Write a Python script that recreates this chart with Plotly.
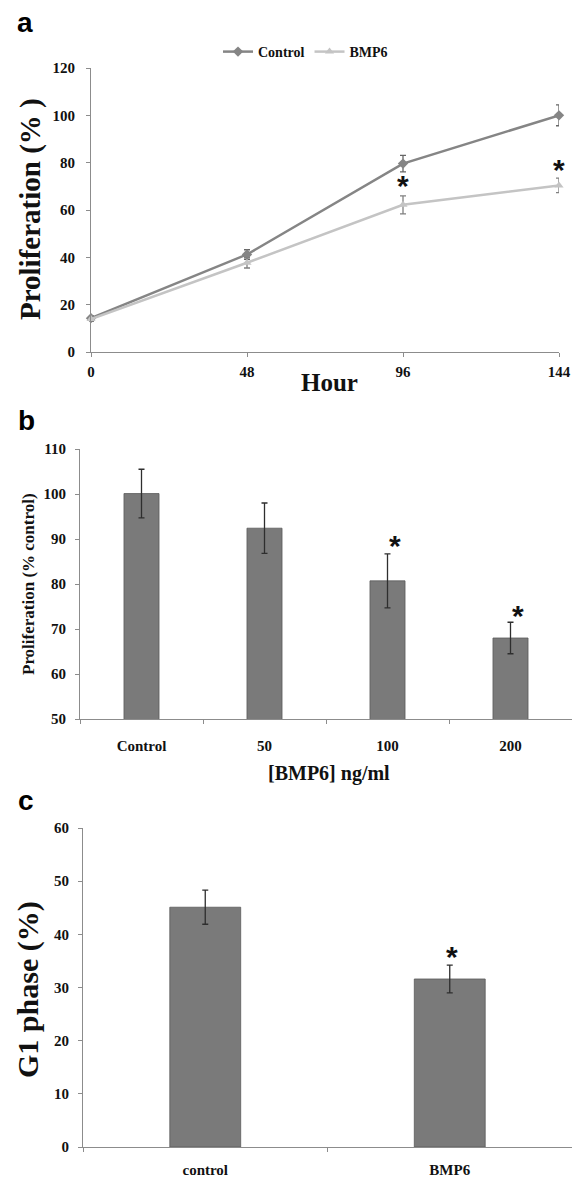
import plotly.graph_objects as go

W, H = 572, 1181

# ---------- Data ----------
# Panel a
hours = [0, 48, 96, 144]
control_a = [14.3, 41.2, 79.6, 100.0]
control_a_err = [1.0, 2.0, 3.5, 4.4]
bmp6_a = [13.9, 37.7, 62.2, 70.4]
bmp6_a_err = [1.0, 2.2, 3.8, 3.1]
sig_a_x = [96, 144]
sig_a_y = [70.5, 77.0]

# Panel b
dose_labels = ["Control", "50", "100", "200"]
prolif_b = [100.1, 92.4, 80.7, 68.0]
prolif_b_err = [5.4, 5.6, 6.0, 3.5]
sig_b_x = ["100", "200"]
sig_b_y = [88.5, 73.0]

# Panel c
groups_c = ["control", "BMP6"]
g1_c = [45.1, 31.6]
g1_c_err = [3.2, 2.6]
sig_c_x = ["BMP6"]
sig_c_y = [35.8]

# ---------- Style ----------
SERIF = "Liberation Serif, Times New Roman, serif"
SANS = "Liberation Sans, Arial, sans-serif"
AXC = "#8c8c8c"
C_CTRL = "#858585"
C_BMP = "#c4c4c4"
C_BAR = "#7a7a7a"
C_ERR = "#2e2e2e"


def px_x(p):
    return p / W


def px_y(p):
    return 1 - p / H


fig = go.Figure()

# Panel a lines
fig.add_trace(go.Scatter(
    x=hours, y=control_a, name="Control", mode="lines+markers",
    line=dict(color=C_CTRL, width=2.5),
    marker=dict(symbol="diamond", size=8, color=C_CTRL),
    error_y=dict(type="data", array=control_a_err, color="#666666", thickness=1.3, width=3),
    xaxis="x", yaxis="y", cliponaxis=False))
fig.add_trace(go.Scatter(
    x=hours, y=bmp6_a, name="BMP6", mode="lines+markers",
    line=dict(color=C_BMP, width=2.5),
    marker=dict(symbol="triangle-up", size=8, color=C_BMP),
    error_y=dict(type="data", array=bmp6_a_err, color="#808080", thickness=1.3, width=3),
    xaxis="x", yaxis="y", cliponaxis=False))

# Panel b bars
fig.add_trace(go.Bar(
    x=dose_labels, y=prolif_b, marker=dict(color=C_BAR, line=dict(color="#5a5a5a", width=0.8)),
    error_y=dict(type="data", array=prolif_b_err, color=C_ERR, thickness=1.3, width=3),
    width=0.285, showlegend=False, xaxis="x2", yaxis="y2"))

# Panel c bars
fig.add_trace(go.Bar(
    x=groups_c, y=g1_c, marker=dict(color=C_BAR, line=dict(color="#5a5a5a", width=0.8)),
    error_y=dict(type="data", array=g1_c_err, color=C_ERR, thickness=1.3, width=3),
    width=0.29, showlegend=False, xaxis="x3", yaxis="y3"))

tickfont = dict(family=SERIF, size=15, color="#111111", weight="bold")
common_axis = dict(showgrid=False, zeroline=False, showline=True, linecolor=AXC, linewidth=1.2,
                   ticks="outside", ticklen=4, tickcolor=AXC, tickwidth=1, tickfont=tickfont,
                   automargin=False)

fig.update_layout(
    width=W, height=H, margin=dict(l=0, r=0, t=0, b=0, autoexpand=False),
    paper_bgcolor="white", plot_bgcolor="white",
    showlegend=True,
    legend=dict(orientation="h", x=px_x(218), y=px_y(36), xanchor="left", yanchor="top",
                font=dict(family=SERIF, size=14, color="#111111", weight="bold"),
                itemwidth=30, tracegroupgap=0, bgcolor="rgba(0,0,0,0)"),
    xaxis=dict(domain=[px_x(91), px_x(559)], range=[0, 144], tickvals=hours, anchor="y",
               ticklabelstandoff=2, ticklabeloverflow="allow", **common_axis),
    yaxis=dict(domain=[px_y(352), px_y(68)], range=[0, 120], dtick=20, anchor="x",
               ticklabelstandoff=8, **common_axis),
    xaxis2=dict(domain=[px_x(80), 1.0], range=[-0.5, 3.5], type="category", anchor="y2",
                tickson="boundaries", ticklabelstandoff=13, **common_axis),
    yaxis2=dict(domain=[px_y(719), px_y(449)], range=[50, 110], dtick=10, anchor="x2",
                ticklabelstandoff=6, **common_axis),
    xaxis3=dict(domain=[px_x(83), 1.0], range=[-0.5, 1.5], type="category", anchor="y3",
                tickson="boundaries", ticklabelstandoff=9, ticklabeloverflow="allow",
                **common_axis),
    yaxis3=dict(domain=[px_y(1147), px_y(828)], range=[0, 60], dtick=10, anchor="x3",
                ticklabelstandoff=6, **common_axis),
)

ann = []
base = dict(xref="paper", yref="paper", showarrow=False, xanchor="center", yanchor="middle")
# Panel letters
for letter, (lx, ly) in zip(["a", "b", "c"], [(25, 22), (26, 420), (26, 800)]):
    ann.append(dict(text=f"<b>{letter}</b>", x=px_x(lx), y=px_y(ly),
                    font=dict(family=SANS, size=28, color="#000"), **base))
# Axis titles
ann.append(dict(text="<b>Proliferation (% )</b>", x=px_x(30), y=px_y(209), textangle=-90,
                font=dict(family=SERIF, size=29, color="#111"), **base))
ann.append(dict(text="<b>Hour</b>", x=px_x(329), y=px_y(383),
                font=dict(family=SERIF, size=25, color="#111"), **base))
ann.append(dict(text="<b>Proliferation (% control)</b>", x=px_x(28), y=px_y(584), textangle=-90,
                font=dict(family=SERIF, size=17, color="#111"), **base))
ann.append(dict(text="<b>[BMP6] ng/ml</b>", x=px_x(329), y=px_y(773),
                font=dict(family=SERIF, size=20, color="#111"), **base))
ann.append(dict(text="<b>G1 phase (%)</b>", x=px_x(28), y=px_y(990), textangle=-90,
                font=dict(family=SERIF, size=30, color="#111"), **base))
# Significance asterisks
star = dict(showarrow=False, font=dict(family=SANS, size=30, color="#111"),
            xanchor="center", yanchor="middle")
for sx, sy in zip(sig_a_x, sig_a_y):
    ann.append(dict(text="<b>*</b>", x=sx, y=sy, xref="x", yref="y", **star))
for sx, sy in zip(sig_b_x, sig_b_y):
    ann.append(dict(text="<b>*</b>", x=dose_labels.index(sx), y=sy, xref="x2", yref="y2",
                    xshift=7, **star))
for sx, sy in zip(sig_c_x, sig_c_y):
    ann.append(dict(text="<b>*</b>", x=groups_c.index(sx), y=sy, xref="x3", yref="y3",
                    xshift=2, **star))

fig.update_layout(annotations=ann)

fig.write_html("out.html")
